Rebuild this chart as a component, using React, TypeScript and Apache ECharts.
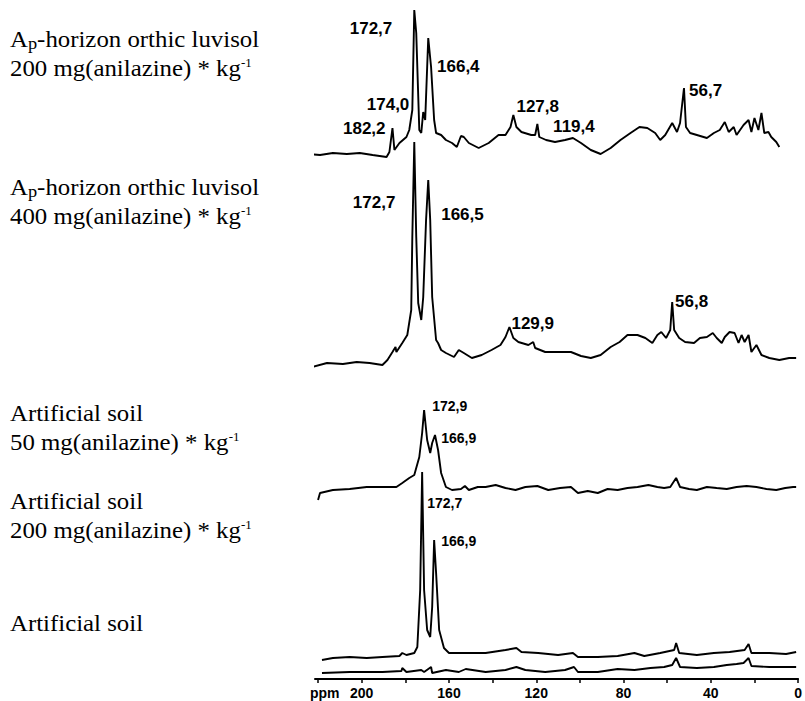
import React, { useEffect, useRef } from "react";
import * as echarts from "echarts";

// ---- spectrum A : Ap-horizon orthic luvisol, 200 mg/kg (offset stack, intensity in display units)
const ppmA = [225.0, 219.1, 213.2, 206.8, 200.9, 195.0, 188.6, 187.3, 185.9, 185.0, 182.7, 179.5, 178.2, 176.8, 175.9, 175.0, 173.6, 172.7, 171.8, 170.9, 169.5, 168.2, 166.8, 165.9, 163.6, 161.4, 158.6, 156.4, 154.5, 153.2, 150.9, 146.4, 141.8, 137.3, 134.1, 131.8, 130.5, 129.1, 126.8, 122.3, 120.5, 119.5, 118.6, 115.5, 111.4, 106.8, 103.2, 99.5, 95.0, 90.5, 85.9, 81.4, 76.8, 72.7, 69.1, 65.5, 63.2, 60.9, 57.7, 55.5, 54.1, 52.3, 51.4, 49.5, 46.4, 41.8, 38.6, 35.9, 33.6, 31.8, 29.5, 28.2, 25.0, 22.7, 21.4, 20.0, 18.2, 16.8, 15.5, 13.6, 12.3, 10.0, 8.6];
const intA = [525, 524, 526, 525, 526, 524, 522, 527, 551, 529, 536, 542, 549, 569, 669, 646, 549, 546, 567, 559, 641, 612, 559, 546, 544, 539, 536, 532, 543, 542, 536, 531, 536, 544, 544, 552, 564, 552, 547, 544, 544, 555, 542, 539, 537, 539, 541, 536, 529, 525, 531, 539, 546, 552, 551, 546, 539, 544, 556, 547, 556, 591, 552, 546, 544, 541, 546, 549, 557, 547, 552, 544, 554, 559, 547, 561, 549, 566, 546, 547, 542, 537, 532];

// ---- spectrum B : Ap-horizon orthic luvisol, 400 mg/kg
const ppmB = [222.7, 215.9, 208.6, 202.3, 196.4, 190.5, 188.2, 185.9, 184.5, 184.1, 181.4, 179.1, 177.3, 176.8, 175.9, 175.0, 174.1, 172.7, 171.8, 170.5, 169.5, 168.6, 167.7, 165.9, 165.0, 163.6, 161.4, 157.7, 155.5, 153.2, 149.5, 145.0, 140.5, 136.4, 134.1, 132.3, 130.5, 128.2, 123.6, 121.4, 120.5, 115.9, 110.0, 104.1, 99.5, 95.0, 90.5, 85.9, 81.8, 78.2, 73.6, 70.0, 66.8, 64.5, 62.7, 60.5, 58.6, 57.7, 56.8, 54.5, 51.8, 47.7, 45.0, 41.8, 39.1, 37.3, 35.0, 33.6, 31.4, 29.1, 27.3, 25.9, 24.5, 22.7, 21.4, 19.1, 16.8, 13.2, 8.6, 4.1, 0.9];
const intB = [312, 316, 315, 317, 316, 314, 319, 327, 332, 327, 336, 344, 369, 442, 537, 442, 376, 359, 382, 459, 499, 459, 382, 339, 336, 329, 326, 322, 329, 326, 321, 324, 329, 334, 342, 352, 341, 337, 334, 337, 331, 327, 327, 327, 323, 321, 324, 332, 337, 344, 344, 341, 336, 344, 347, 341, 349, 377, 349, 341, 337, 336, 341, 342, 346, 341, 336, 342, 347, 346, 336, 344, 337, 344, 327, 334, 324, 321, 319, 321, 321];

// ---- spectrum C : Artificial soil, 50 mg/kg
const ppmC = [220.0, 219.1, 213.2, 205.5, 197.7, 190.5, 184.1, 181.4, 178.2, 175.9, 173.6, 172.3, 171.4, 170.0, 168.6, 167.7, 166.4, 165.0, 163.6, 161.4, 158.6, 154.5, 152.7, 150.9, 146.8, 143.2, 138.6, 134.1, 129.5, 125.0, 119.5, 114.5, 109.1, 104.1, 100.9, 96.4, 91.8, 87.3, 82.7, 78.2, 73.6, 68.6, 64.5, 61.4, 58.6, 55.9, 54.1, 50.0, 46.4, 41.8, 37.3, 32.7, 28.2, 23.6, 19.1, 14.5, 10.0, 5.9, 2.3, 0.9];
const intC = [179, 186, 189, 190, 192, 192, 192, 196, 201, 204, 222, 246, 269, 239, 226, 236, 244, 229, 206, 192, 189, 190, 193, 189, 192, 192, 194, 191, 189, 192, 193, 189, 191, 192, 186, 188, 186, 190, 189, 191, 192, 194, 192, 191, 192, 201, 192, 190, 189, 192, 191, 190, 192, 193, 192, 190, 189, 191, 192, 192];

// ---- spectrum D : Artificial soil, 200 mg/kg
const ppmD = [218.2, 213.2, 205.5, 197.7, 190.5, 182.7, 181.4, 179.5, 175.9, 174.5, 173.2, 172.3, 171.4, 170.0, 168.6, 167.7, 166.8, 165.9, 164.5, 162.3, 160.0, 152.3, 143.2, 134.1, 129.1, 126.8, 119.1, 110.0, 103.2, 100.9, 91.8, 82.7, 75.0, 70.5, 63.2, 56.8, 55.9, 54.5, 46.4, 38.6, 31.4, 24.5, 22.7, 21.4, 13.2, 5.5, 0.9];
const intD = [19, 21, 22, 21, 22, 23, 26, 24, 26, 32, 89, 207, 89, 49, 42, 72, 139, 106, 49, 31, 26, 26, 26, 29, 31, 27, 26, 24, 26, 22, 22, 23, 26, 23, 26, 29, 36, 26, 24, 26, 27, 29, 35, 26, 26, 25, 27];

// ---- spectrum E : Artificial soil (blank)
const ppmE = [218.2, 205.5, 190.5, 181.8, 181.4, 179.5, 172.7, 171.4, 168.2, 167.7, 161.4, 155.5, 152.3, 143.2, 134.1, 129.1, 125.0, 115.9, 106.8, 102.7, 100.9, 91.8, 82.7, 75.0, 67.7, 61.4, 57.7, 55.9, 54.1, 46.4, 38.6, 32.7, 28.2, 25.0, 22.7, 21.4, 13.2, 5.5, 0.9];
const intE = [6, 7, 7, 8, 11, 7, 9, 7, 12, 6, 9, 7, 10, 7, 9, 12, 9, 7, 9, 12, 7, 7, 10, 9, 11, 12, 14, 21, 12, 11, 12, 14, 15, 16, 21, 13, 12, 12, 12];

// ---- peak annotations (anchor in ppm / display units)
const bigPeakText = ["172,7", "166,4", "174,0", "182,2", "127,8", "119,4", "56,7", "172,7", "166,5", "129,9", "56,8"];
const bigPeakPpm = [205.5, 165.5, 197.7, 208.6, 129.1, 112.3, 50.0, 204.1, 163.6, 131.4, 56.4];
const bigPeakY = [651, 613, 575, 551, 573, 553, 589, 477, 465, 356, 378];
const smallPeakText = ["172,9", "166,9", "172,7", "166,9"];
const smallPeakPpm = [167.7, 163.6, 170.0, 163.6];
const smallPeakY = [273, 241, 176, 138];

// ---- sample descriptions (rich text)
const sampleTitles = [
  "{t|A}{sub|p}{t|-horizon orthic luvisol}\n{t|200 mg(anilazine) * kg}{sup|-1}",
  "{t|A}{sub|p}{t|-horizon orthic luvisol}\n{t|400 mg(anilazine) * kg}{sup|-1}",
  "{t|Artificial soil}\n{t|50 mg(anilazine) * kg}{sup|-1}",
  "{t|Artificial soil}\n{t|200 mg(anilazine) * kg}{sup|-1}",
  "{t|Artificial soil}",
];
const titleTops = [24.5, 172.5, 398.5, 486.5, 608.5];

const zip = (xs: number[], ys: number[]) =>
  xs.slice(0, Math.min(xs.length, ys.length)).map((x, i) => [x, ys[i]]);

export default function App() {
  const ref = useRef<HTMLDivElement>(null);
  useEffect(() => {
    if (!ref.current) return;
    const chart = echarts.init(ref.current, null, { renderer: "svg" });
    const spectra = [
      zip(ppmA, intA),
      zip(ppmB, intB),
      zip(ppmC, intC),
      zip(ppmD, intD),
      zip(ppmE, intE),
    ];
    const serif = "'Liberation Serif', 'Times New Roman', serif";
    const sans = "'Liberation Sans', Arial, sans-serif";
    const rich = {
      t: { fontFamily: serif, fontSize: 23, lineHeight: 29, verticalAlign: "middle", fill: "#000" },
      sub: { fontFamily: serif, fontSize: 17, padding: [9, 0, 0, 0], verticalAlign: "middle", fill: "#000" },
      sup: { fontFamily: serif, fontSize: 12, padding: [0, 0, 9, 0], verticalAlign: "middle", fill: "#000" },
    };
    const labelCommon = {
      show: true,
      position: "right",
      distance: 0,
      formatter: "{b}",
      color: "#000",
      opacity: 1,
      textBorderWidth: 0,
      fontWeight: "bold",
      fontFamily: sans,
    };
    const option: any = {
      animation: false,
      backgroundColor: "#ffffff",
      grid: { left: 315, right: 3, top: 0, bottom: 22, containLabel: false },
      xAxis: {
        type: "value",
        inverse: true,
        min: 0,
        max: 221.4,
        interval: 20,
        axisLine: { show: true, onZero: false, lineStyle: { color: "#000", width: 2 } },
        axisTick: { show: true, length: 4, lineStyle: { color: "#000", width: 1.5 } },
        axisLabel: {
          formatter: (v: number) => (Math.abs(v % 40) < 1e-6 ? String(v) : ""),
          color: "#000",
          fontWeight: "bold",
          fontSize: 14,
          fontFamily: sans,
          margin: 7,
          showMaxLabel: false,
        },
        splitLine: { show: false },
      },
      yAxis: { type: "value", min: 0, max: 679, show: false },
      series: [
        ...spectra.map((d) => ({
          type: "line",
          data: d,
          symbol: "none",
          showSymbol: false,
          clip: false,
          silent: true,
          lineStyle: { color: "#000", width: 1.9 },
        })),
        {
          type: "scatter",
          symbolSize: 0.1,
          silent: true,
          clip: false,
          itemStyle: { color: "transparent" },
          data: bigPeakText.map((t, i) => ({ name: t, value: [bigPeakPpm[i], bigPeakY[i]] })),
          label: { ...labelCommon, fontSize: 17 },
        },
        {
          type: "scatter",
          symbolSize: 0.1,
          silent: true,
          clip: false,
          itemStyle: { color: "transparent" },
          data: smallPeakText.map((t, i) => ({ name: t, value: [smallPeakPpm[i], smallPeakY[i]] })),
          label: { ...labelCommon, fontSize: 14 },
        },
      ],
      graphic: [
        ...sampleTitles.map((txt, i) => ({
          type: "text",
          x: 10,
          y: titleTops[i],
          scaleX: 1.08,
          silent: true,
          style: { text: txt, rich, fontFamily: serif, fontSize: 23, align: "left", verticalAlign: "top", fill: "#000" },
        })),
        {
          type: "text",
          x: 310,
          y: 693,
          silent: true,
          style: { text: "ppm", fontFamily: sans, fontWeight: "bold", fontSize: 14, align: "left", verticalAlign: "middle", fill: "#000" },
        },
      ],
    };
    chart.setOption(option);
    return () => chart.dispose();
  }, []);
  return (
    <div
      ref={ref}
      style={{ position: "absolute", left: 0, top: 0, width: 805, height: 701, background: "#fff" }}
    />
  );
}
